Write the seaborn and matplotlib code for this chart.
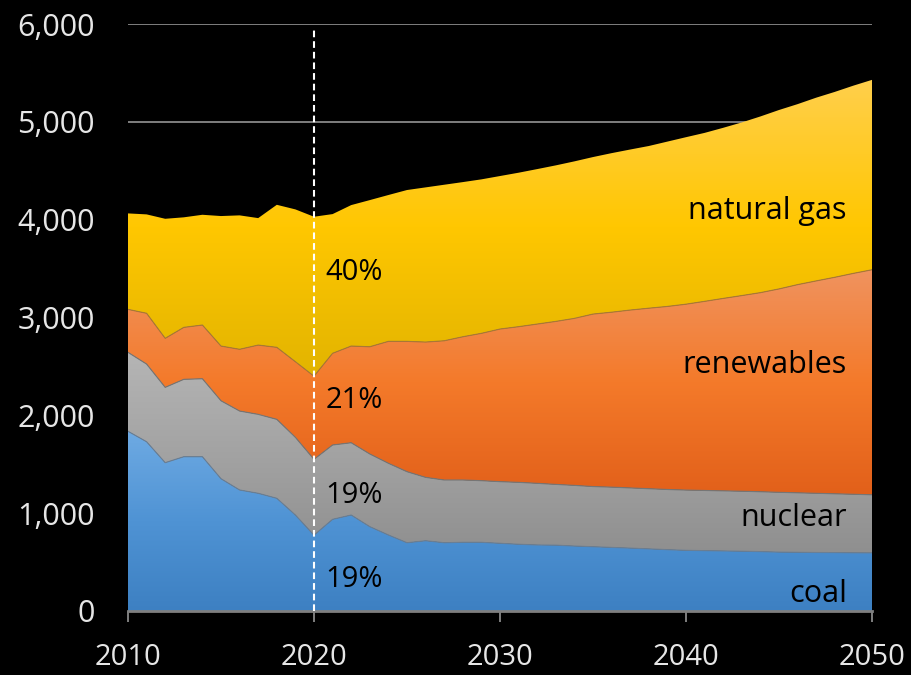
import numpy as np
import pandas as pd
import matplotlib
matplotlib.use("Agg")
import matplotlib.pyplot as plt
from matplotlib.colors import LinearSegmentedColormap
from matplotlib.patches import PathPatch
from matplotlib.ticker import FuncFormatter
import seaborn as sns

# Electricity generation by source, 2010-2050 (billion kWh)
years = list(range(2010, 2051))
coal = [1837, 1730, 1516, 1577, 1577, 1352, 1237, 1203, 1152, 981,
        775, 937, 981, 862, 777, 698, 718, 698, 702, 702,
        692, 682, 675, 673, 664, 657, 650, 643, 635, 627,
        620, 617, 614, 611, 607, 602, 600, 598, 597, 595, 594]
nuclear = [807, 794, 770, 791, 797, 797, 807, 807, 807, 794,
           775, 760, 739, 743, 733, 726, 648, 641, 637, 630,
           630, 633, 630, 621, 620, 615, 616, 615, 615, 615,
           616, 615, 614, 613, 612, 611, 608, 605, 601, 598, 594]
renewables = [439, 519, 501, 531, 549, 559, 631, 708, 736, 773,
              850, 937, 988, 1096, 1246, 1332, 1383, 1423, 1464, 1506,
              1560, 1591, 1628, 1666, 1707, 1763, 1788, 1818, 1845, 1871,
              1900, 1933, 1967, 2000, 2035, 2079, 2128, 2171, 2213, 2258, 2300]
natural_gas = [981, 1011, 1222, 1125, 1127, 1329, 1369, 1298, 1457, 1557,
               1630, 1423, 1441, 1499, 1496, 1547, 1581, 1595, 1581, 1574,
               1564, 1574, 1584, 1595, 1605, 1605, 1626, 1641, 1658, 1685,
               1707, 1722, 1744, 1770, 1801, 1829, 1845, 1873, 1895, 1919, 1941]

series_names = ["coal", "nuclear", "renewables", "natural gas"]
y_ticks = [0, 1000, 2000, 3000, 4000, 5000, 6000]
x_ticks = [2010, 2020, 2030, 2040, 2050]
marker_year = 2020

# bottom -> top colour stops for each layer's vertical gradient
stops = {
    "coal": ["#3d80c2", "#4f93d4", "#6eaae3"],
    "nuclear": ["#8f8f8f", "#a3a3a3", "#b5b5b5"],
    "renewables": ["#e2601a", "#f47a2a", "#f0935f"],
    "natural gas": ["#e2b400", "#ffc700", "#ffcf4c"],
}
edge_colors = {
    "coal": "#6a7f95",
    "nuclear": "#767676",
    "renewables": "#a87838",
    "natural gas": "#d8a800",
}

sns.set_theme(style="dark")
plt.rcParams["font.family"] = ["Open Sans", "DejaVu Sans"]

df = pd.DataFrame({"year": years, "coal": coal, "nuclear": nuclear,
                   "renewables": renewables, "natural gas": natural_gas})

fig = plt.figure(figsize=(9.12, 6.75), dpi=100, facecolor="black")
ax = fig.add_axes([128 / 912, 1 - 611 / 675, (872 - 128) / 912, (611 - 24) / 675])
ax.set_facecolor("black")

x = df["year"].to_numpy(dtype=float)
lower = np.zeros_like(x)
grad = np.linspace(0, 1, 512).reshape(-1, 1)
tops = {}
for i, name in enumerate(series_names):
    upper = lower + df[name].to_numpy(dtype=float)
    poly = ax.fill_between(x, lower, upper, facecolor="none", edgecolor="none", zorder=2 + i)
    cmap = LinearSegmentedColormap.from_list(name, stops[name])
    im = ax.imshow(grad, cmap=cmap, origin="lower", aspect="auto",
                   extent=[x[0], x[-1], lower.min(), upper.max()],
                   interpolation="bilinear", zorder=2 + i)
    clip = PathPatch(poly.get_paths()[0], transform=ax.transData, facecolor="none", edgecolor="none")
    im.set_clip_path(clip)
    tops[name] = upper.copy()
    lower = upper

# thin boundary line on top of each layer
edge_df = pd.DataFrame({"year": x})
for i, name in enumerate(series_names[:-1]):
    edge_df["top"] = tops[name]
    sns.lineplot(data=edge_df, x="year", y="top", ax=ax, color=edge_colors[name],
                 linewidth=0.8, zorder=6.5, legend=False)

ax.set_xlim(2010, 2050)
ax.set_ylim(0, 6000)

# dashed marker line
ax.vlines(marker_year, 0, 5950, colors="white", linewidth=1.5,
          linestyles=(0, (3.2, 1.9)), zorder=8)

# share of each source in the marker year
idx = years.index(marker_year)
total = sum(df[n].iloc[idx] for n in series_names)
label_y = {"coal": 245, "nuclear": 1104, "renewables": 2075, "natural gas": 3383}
for name in series_names:
    share = df[name].iloc[idx] / total * 100
    ax.text(marker_year + 0.62, label_y[name], f"{share:.0f}%", fontsize=21,
            color="black", ha="left", va="baseline", zorder=9)

# series names at the right
name_y = {"coal": 92, "nuclear": 872, "renewables": 2432, "natural gas": 4006}
for name in series_names:
    ax.text(2048.65, name_y[name], name, fontsize=22, color="black",
            ha="right", va="baseline", zorder=9)

ax.set_xticks(x_ticks)
ax.set_yticks(y_ticks)
ax.yaxis.set_major_formatter(FuncFormatter(lambda v, p: f"{int(v):,}"))
ax.grid(axis="y", color="#7f7f7f", linewidth=1.4, zorder=0)
ax.grid(axis="x", visible=False)
ax.set_axisbelow(True)
ax.tick_params(axis="x", colors="#7f7f7f", length=8, width=1.4, direction="out",
               labelcolor="#e6e6e6", labelsize=21, pad=15, bottom=True)
ax.tick_params(axis="y", length=0, labelcolor="#e6e6e6", labelsize=22, pad=24)
for side in ["top", "right", "left"]:
    ax.spines[side].set_visible(False)
ax.spines["bottom"].set_visible(True)
ax.spines["bottom"].set_color("#7f7f7f")
ax.spines["bottom"].set_linewidth(2)
ax.spines["bottom"].set_zorder(7)
ax.set_xlabel("")
ax.set_ylabel("")

fig.savefig("out.png", dpi=100, facecolor="black")
